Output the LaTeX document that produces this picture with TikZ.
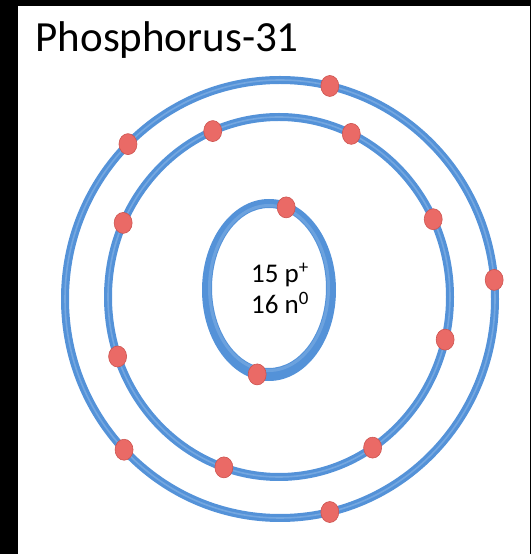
\documentclass[tikz,border=0pt]{standalone}
\usepackage{fontspec}
\setmainfont{Carlito}
\usepackage{tikz}
\usetikzlibrary{calc}
\usetikzlibrary{shapes.geometric}

\definecolor{ringblue}{RGB}{84,146,216}
\definecolor{ringlight}{RGB}{165,199,238}
\definecolor{elecred}{RGB}{234,106,102}
\definecolor{elecedge}{RGB}{205,84,80}

\begin{document}
\begin{tikzpicture}[x=1pt,y=1pt]
		\tikzset{orbit/.style={draw=ringblue,line width=8},
			shine/.style={draw=ringlight,line width=1.6,opacity=0.4},
			electron/.style={draw=elecedge,ellipse,line width=0.6,fill=elecred,inner sep=0,minimum width=18,minimum height=21}}
		\useasboundingbox (0,0) rectangle (531,554);
		\fill[black] (0,0) rectangle (18,554);
		\fill[black] (0,548) rectangle (531,554);
		\fill[black] (530,0) rectangle (531,554);
		
		\coordinate (outerc) at (280,255);
		\coordinate (midc) at (279,257);
		\coordinate (nucc) at (269,264);
		
		% shells
		\draw[orbit] (outerc) ellipse [x radius=215, y radius=219];
		\draw[shine] (outerc) ellipse [x radius=215, y radius=219];
		\draw[orbit] (midc) ellipse [x radius=171, y radius=180];
		\draw[shine] (midc) ellipse [x radius=171, y radius=180];
		\fill[ringblue,even odd rule] (nucc) ellipse [x radius=67, y radius=91]
			($(nucc)+(0,2)$) ellipse [x radius=57, y radius=80];
		\draw[ringlight,line width=3,opacity=0.3] ($(nucc)+(0,2)$) ellipse [x radius=59.5, y radius=82.5];
		
		\node (title) at (32,502) [anchor=base west,font=\fontsize{43}{50}\selectfont] {Phosphorus-31};
		\node (nuc) at (280,266) [align=center,font=\fontsize{27}{31}\selectfont] {15 p\textsuperscript{+}\\16 n\textsuperscript{0}};
		
		% electrons
		\node (n1) at ($(nucc)+(73.9:62 and 86)$) [electron] {};
		\node (n2) at ($(nucc)+(259:62 and 86)$) [electron] {};
		
		\node (m1) at ($(midc)+(112.8:171 and 180)$) [electron] {};
		\node (m2) at ($(midc)+(65:171 and 180)$) [electron] {};
		\node (m3) at ($(midc)+(155.7:171 and 180)$) [electron] {};
		\node (m4) at ($(midc)+(25.6:171 and 180)$) [electron] {};
		\node (m5) at ($(midc)+(199.3:171 and 180)$) [electron] {};
		\node (m6) at ($(midc)+(346.3:171 and 180)$) [electron] {};
		\node (m7) at ($(midc)+(303.2:171 and 180)$) [electron] {};
		\node (m8) at ($(midc)+(251.2:171 and 180)$) [electron] {};
		
		\node (o1) at ($(outerc)+(76.6:215 and 219)$) [electron] {};
		\node (o2) at ($(outerc)+(135:215 and 219)$) [electron] {};
		\node (o3) at ($(outerc)+(5:215 and 219)$) [electron] {};
		\node (o4) at ($(outerc)+(223.5:215 and 219)$) [electron] {};
		\node (o5) at ($(outerc)+(283.4:215 and 219)$) [electron] {};
	\end{tikzpicture}
\end{document}
